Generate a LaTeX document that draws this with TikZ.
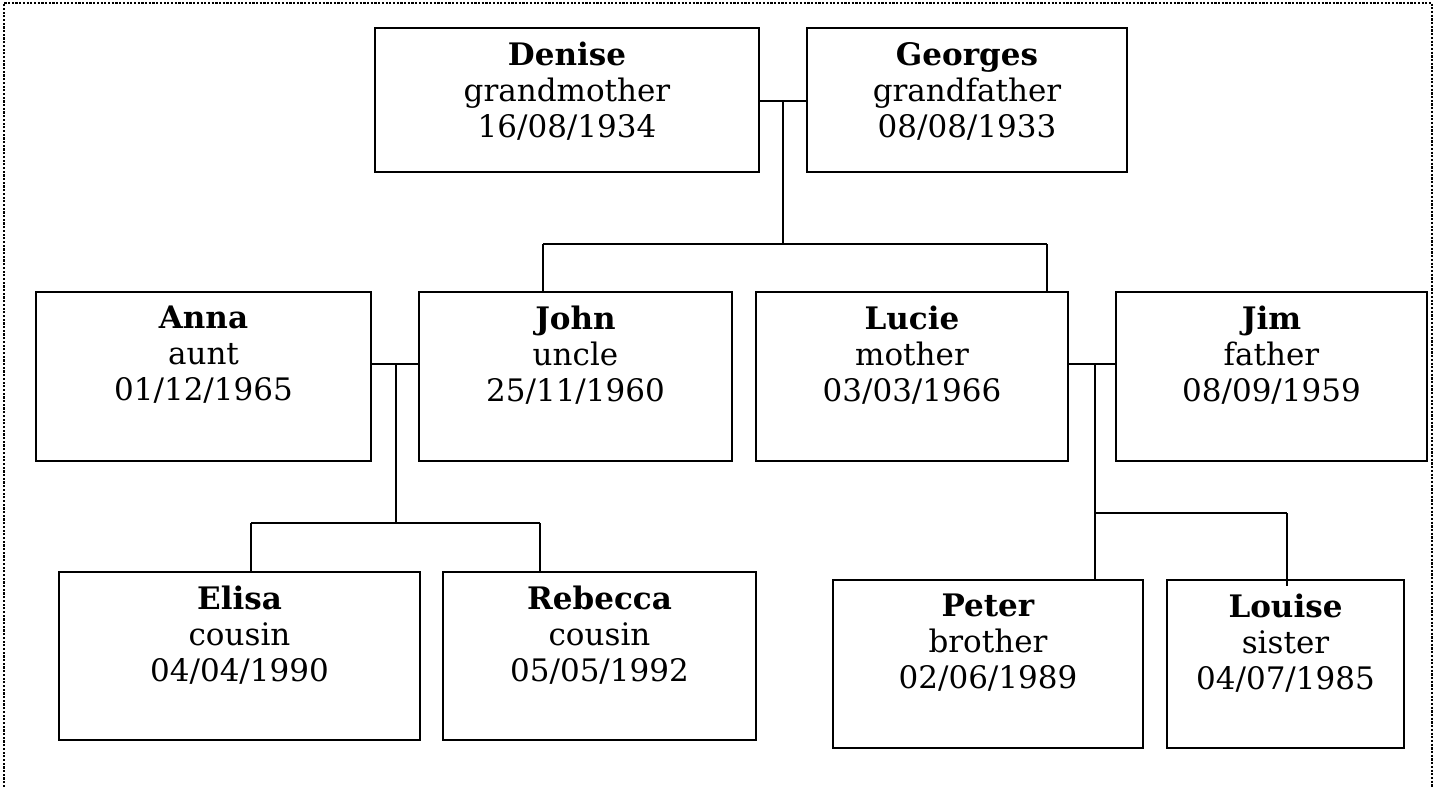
\documentclass[tikz,border=0pt]{standalone}
\usepackage{fontspec}
\setmainfont{DejaVu Serif}
\usetikzlibrary{positioning}
\begin{document}
\begin{tikzpicture}[x=1pt,y=-1pt,
  person/.style={draw=black, line width=2.4pt, rectangle, inner sep=0pt},
  ptext/.style={inner sep=0pt, anchor=north, align=center, font=\fontsize{31}{36}\selectfont},
  link/.style={draw=black, line width=1.8pt},
  frame/.style={draw=black, line width=2.4pt, dash pattern=on 2.2pt off 1.5pt}]
\useasboundingbox (0,0) rectangle (1436,787);
\draw[frame] (4,787) -- (4,3) -- (1432,3) -- (1432,787);
% boxes: \node at centre, size from pixel extents
\newcommand{\pbox}[5]{\node[person, minimum width={#4-#2}, minimum height={#5-#3}] (#1) at ({(#2+#4)/2},{(#3+#5)/2}) {};}
\pbox{denise}{375}{28}{759}{172}
\pbox{georges}{807}{28}{1127}{172}
\pbox{anna}{36}{292}{371}{461}
\pbox{john}{419}{292}{732}{461}
\pbox{lucie}{756}{292}{1068}{461}
\pbox{jim}{1116}{292}{1427}{461}
\pbox{elisa}{59}{572}{420}{740}
\pbox{rebecca}{443}{572}{756}{740}
\pbox{peter}{833}{580}{1143}{748}
\pbox{louise}{1167}{580}{1404}{748}
% texts
\node[ptext, below=15pt of denise.north] (denise-t) {\textbf{Denise}\\grandmother\\16/08/1934};
\node[ptext, below=15pt of georges.north] (georges-t) {\textbf{Georges}\\grandfather\\08/08/1933};
\node[ptext, below=15pt of anna.north] (anna-t) {\textbf{Anna}\\aunt\\01/12/1965};
\node[ptext, below=15pt of john.north] (john-t) {\textbf{John}\\uncle\\25/11/1960};
\node[ptext, below=15pt of lucie.north] (lucie-t) {\textbf{Lucie}\\mother\\03/03/1966};
\node[ptext, below=15pt of jim.north] (jim-t) {\textbf{Jim}\\father\\08/09/1959};
\node[ptext, below=15pt of elisa.north] (elisa-t) {\textbf{Elisa}\\cousin\\04/04/1990};
\node[ptext, below=15pt of rebecca.north] (rebecca-t) {\textbf{Rebecca}\\cousin\\05/05/1992};
\node[ptext, below=15pt of peter.north] (peter-t) {\textbf{Peter}\\brother\\02/06/1989};
\node[ptext, below=15pt of louise.north] (louise-t) {\textbf{Louise}\\sister\\04/07/1985};
% connector points
\coordinate (m1) at (783,101);
\coordinate (k1) at (783,244);
\coordinate (m2) at (396,364);
\coordinate (k2) at (396,523);
\coordinate (m3) at (1095,364);
\coordinate (k3) at (1095,513);
\coordinate (c1) at (543,244);
\coordinate (c2) at (1047,244);
\coordinate (c3) at (251,523);
\coordinate (c4) at (540,523);
\coordinate (c5) at (1287,513);
\coordinate (c6) at (1287,586);
% grandparents
\draw[link] (denise.east |- m1) -- (georges.west |- m1);
\draw[link] (m1) -- (k1);
\draw[link] (c1) -- (c2);
\draw[link] (c1) -- (john.north -| c1);
\draw[link] (c2) -- (lucie.north -| c2);
% Anna & John
\draw[link] (anna.east |- m2) -- (john.west |- m2);
\draw[link] (m2) -- (k2);
\draw[link] (c3) -- (c4);
\draw[link] (c3) -- (elisa.north -| c3);
\draw[link] (c4) -- (rebecca.north -| c4);
% Lucie & Jim
\draw[link] (lucie.east |- m3) -- (jim.west |- m3);
\draw[link] (m3) -- (peter.north -| m3);
\draw[link] (k3) -- (c5);
\draw[link] (c5) -- (c6);
\end{tikzpicture}
\end{document}
